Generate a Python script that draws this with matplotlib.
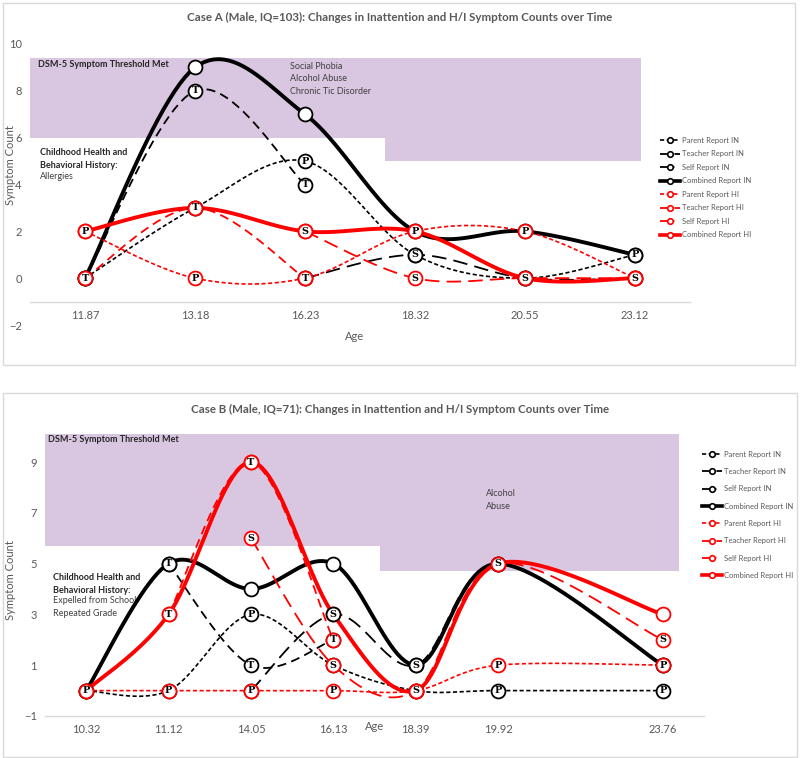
import numpy as np
import matplotlib
matplotlib.use('Agg')
import matplotlib.pyplot as plt
from matplotlib.lines import Line2D
from matplotlib.patches import Rectangle

nan = np.nan

# Case A data
ages_a = ['11.87', '13.18', '16.23', '18.32', '20.55', '23.12']
parent_in_a = [0, 3, 5, 1, 0, 1]
teacher_in_a = [0, 8, 4, nan, nan, nan]
self_in_a = [nan, nan, 0, 1, 0, 0]
combined_in_a = [0, 9, 7, 2, 2, 1]
parent_hi_a = [2, 0, 0, 2, 2, 0]
teacher_hi_a = [0, 3, 0, nan, nan, nan]
self_hi_a = [nan, nan, 2, 0, 0, 0]
combined_hi_a = [2, 3, 2, 2, 0, 0]

# Case B data ('' = empty category slot on the axis)
ages_b = ['10.32', '11.12', '14.05', '16.13', '18.39', '19.92', '', '23.76']
parent_in_b = [0, 0, 3, 1, 0, 0, nan, 0]
teacher_in_b = [nan, 5, 1, 2, nan, nan, nan, nan]
self_in_b = [nan, nan, 0, 3, 1, 5, nan, 1]
combined_in_b = [0, 5, 4, 5, 1, 5, nan, 1]
parent_hi_b = [0, 0, 0, 0, 0, 1, nan, 1]
teacher_hi_b = [nan, 3, 9, 2, nan, nan, nan, nan]
self_hi_b = [nan, nan, 6, 1, 0, 5, nan, 2]
combined_hi_b = [0, 3, 9, 3, 0, 5, nan, 3]

labels = ['Parent Report IN', 'Teacher Report IN', 'Self Report IN', 'Combined Report IN',
          'Parent Report HI', 'Teacher Report HI', 'Self Report HI', 'Combined Report HI']
letters = ['P', 'T', 'S', '', 'P', 'T', 'S', '']

plt.rcParams['font.family'] = ['Lato', 'DejaVu Sans']
GRAY = '#595959'
PURPLE = '#d9c7e1'

styles = [
    dict(color='black', lw=1.2, dashes=(2.5, 1.5)),
    dict(color='black', lw=1.3, dashes=(5, 3)),
    dict(color='black', lw=1.3, dashes=(8, 4)),
    dict(color='black', lw=2.8, dashes=()),
    dict(color='#ff0000', lw=1.2, dashes=(2.5, 1.5)),
    dict(color='#ff0000', lw=1.3, dashes=(5, 3)),
    dict(color='#ff0000', lw=1.3, dashes=(8, 4)),
    dict(color='#ff0000', lw=2.8, dashes=()),
]


def smooth(xs, ys, n=24):
    # Excel-style smoothed line (Catmull-Rom through the points)
    pts = np.array([(x, y) for x, y in zip(xs, ys) if not np.isnan(y)], dtype=float)
    if len(pts) < 2:
        return pts
    ext = np.vstack([pts[0], pts, pts[-1]])
    t = np.linspace(0, 1, n)[:, None]
    out = []
    for i in range(len(pts) - 1):
        p0, p1, p2, p3 = ext[i], ext[i + 1], ext[i + 2], ext[i + 3]
        seg = 0.5 * (2 * p1 + (-p0 + p2) * t + (2 * p0 - 5 * p1 + 4 * p2 - p3) * t ** 2
                     + (-p0 + 3 * p1 - 3 * p2 + p3) * t ** 3)
        out.append(seg if i == 0 else seg[1:])
    return np.vstack(out)


def draw_case(ax, ages, series, ylim, yticks, boxes, notes):
    xs = np.arange(len(ages))
    for (x0, x1, y0, y1) in boxes:
        ax.fill_between([x0, x1], y0, y1, color=PURPLE, lw=0, zorder=0)
    for i, (vals, st) in enumerate(zip(series, styles)):
        curve = smooth(xs, vals)
        if len(curve) > 1:
            ln, = ax.plot(curve[:, 0], curve[:, 1], color=st['color'], lw=st['lw'],
                          zorder=2 + i * 0.1)
            if st['dashes']:
                ln.set_dashes(st['dashes'])
        # combined (plain) circles sit under the lettered ones
        mz = 2.95 if not letters[i] else 3 + i * 0.1
        for x, y in zip(xs, vals):
            if np.isnan(y):
                continue
            ax.plot(x, y, 'o', ms=10, mfc='white', mec=st['color'], mew=1.3, zorder=mz)
            if letters[i]:
                ax.text(x, y, letters[i], ha='center', va='center', fontsize=7,
                        fontweight='bold', family='DejaVu Serif', color='black',
                        zorder=mz + 0.05)
    for (x, y, s, bold) in notes:
        ax.text(x, y, s, ha='left', va='top', fontsize=6.5, linespacing=1.55,
                fontweight='bold' if bold else 'normal',
                color='#262626' if bold else '#404040', zorder=1)
    ax.set_xlim(-0.5, len(ages) - 0.5)
    ax.set_ylim(*ylim)
    ax.set_xticks(xs)
    ax.set_xticklabels(ages)
    ax.set_yticks(yticks)
    ax.tick_params(length=0, labelsize=8, colors=GRAY, pad=6)
    for s in ['top', 'right', 'left']:
        ax.spines[s].set_visible(False)
    ax.spines['bottom'].set_color('#d9d9d9')
    ax.spines['bottom'].set_linewidth(1)


fig = plt.figure(figsize=(8, 7.58), dpi=100)
W, H = 800, 758


def frac(px, py):
    return px / W, 1 - py / H


# ---- Case A ----
axA = fig.add_axes([30 / W, 1 - 325 / H, 660 / W, 281 / H])
series_a = [parent_in_a, teacher_in_a, self_in_a, combined_in_a,
            parent_hi_a, teacher_hi_a, self_hi_a, combined_hi_a]
draw_case(axA, ages_a, series_a, (-2, 10), [-2, 0, 2, 4, 6, 8, 10],
          [(-0.5, 2.73, 6, 9.4), (2.73, 5.05, 5, 9.4)],
          [(-0.43, 9.3, 'DSM-5 Symptom Threshold Met', True),
           (1.86, 9.25, 'Social Phobia\nAlcohol Abuse\nChronic Tic Disorder', False),
           (-0.41, 5.55, 'Childhood Health and\nBehavioral History:', True),
           (-0.41, 4.55, 'Allergies', False)])
axA.spines['bottom'].set_position(('data', -1))
fig.text(*frac(400, 17), 'Case A (Male, IQ=103): Changes in Inattention and H/I Symptom Counts over Time',
         ha='center', va='center', fontsize=8.3, fontweight='bold', color=GRAY)
fig.text(*frac(355, 336), 'Age', ha='center', va='center', fontsize=8, color=GRAY)
fig.text(*frac(11, 165), 'Symptom Count', ha='center', va='center', rotation=90,
         fontsize=8, color=GRAY)

# ---- Case B ----
axB = fig.add_axes([45 / W, 1 - 716 / H, 659 / W, 287 / H])
series_b = [parent_in_b, teacher_in_b, self_in_b, combined_in_b,
            parent_hi_b, teacher_hi_b, self_hi_b, combined_hi_b]
draw_case(axB, ages_b, series_b, (-1, 10.3), [-1, 1, 3, 5, 7, 9],
          [(-0.5, 3.57, 5.7, 10.1), (3.57, 7.2, 4.7, 10.1)],
          [(-0.46, 10.05, 'DSM-5 Symptom Threshold Met', True),
           (4.85, 7.95, 'Alcohol\nAbuse', False),
           (-0.40, 4.62, 'Childhood Health and\nBehavioral History:', True),
           (-0.40, 3.72, 'Expelled from School\nRepeated Grade', False)])
fig.text(*frac(400, 409), 'Case B (Male, IQ=71): Changes in Inattention and H/I Symptom Counts over Time',
         ha='center', va='center', fontsize=8.3, fontweight='bold', color=GRAY)
fig.text(*frac(375, 726), 'Age', ha='center', va='center', fontsize=8, color=GRAY)
fig.text(*frac(11, 580), 'Symptom Count', ha='center', va='center', rotation=90,
         fontsize=8, color=GRAY)

# legends
handles = []
for lab, st in zip(labels, styles):
    h = Line2D([], [], color=st['color'], lw=st['lw'] if st['lw'] < 2 else 2.6,
               marker='o', ms=4, mfc='white', mec=st['color'], mew=1.2)
    if st['dashes']:
        h.set_dashes(st['dashes'])
    handles.append(h)

fig.legend(handles=handles, labels=labels, loc='upper left',
           bbox_to_anchor=frac(656, 133), frameon=False, fontsize=5.5,
           labelspacing=0.85, handlelength=2.6, handletextpad=0.3, borderpad=0,
           labelcolor=GRAY)
fig.legend(handles=handles, labels=labels, loc='upper left',
           bbox_to_anchor=frac(698, 447), frameon=False, fontsize=5.5,
           labelspacing=1.35, handlelength=2.6, handletextpad=0.3, borderpad=0,
           labelcolor=GRAY)

# panel borders
fig.add_artist(Rectangle((3 / W, 1 - 365 / H), 792 / W, 362 / H, transform=fig.transFigure,
                         fill=False, ec='#d9d9d9', lw=1))
fig.add_artist(Rectangle((3 / W, 1 - 757 / H), 794 / W, 364 / H, transform=fig.transFigure,
                         fill=False, ec='#d9d9d9', lw=1))

fig.savefig('out.png', dpi=100)
